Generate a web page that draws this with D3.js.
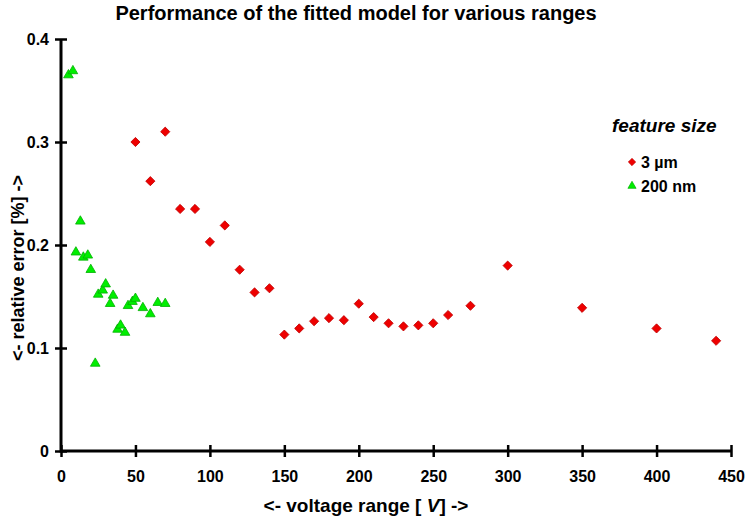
<!DOCTYPE html>
<html>
<head>
<meta charset="utf-8">
<script src="https://cdn.jsdelivr.net/npm/d3@7"></script>
<style>
  html, body { margin: 0; padding: 0; background: #fff; }
  svg text { font-family: "Liberation Sans", Arial, sans-serif; font-weight: bold; fill: #000; }
</style>
</head>
<body>
<svg id="chart" width="747" height="518"></svg>
<script>
// Voltage ranges [V] and relative errors [%] for each feature size
const micronVoltage = [50, 60, 70, 80, 90, 100, 110, 120, 130, 140, 150, 160, 170, 180, 190, 200, 210, 220, 230, 240, 250, 260, 275, 300, 350, 400, 440];
const micronError   = [0.300, 0.262, 0.310, 0.235, 0.235, 0.203, 0.219, 0.176, 0.154, 0.158, 0.113, 0.119, 0.126, 0.129, 0.127, 0.143, 0.130, 0.124, 0.121, 0.122, 0.124, 0.132, 0.141, 0.180, 0.139, 0.119, 0.107];

const nanoVoltage = [5, 8, 10, 13, 15, 18, 20, 23, 25, 28, 30, 33, 35, 38, 40, 43, 45, 48, 50, 55, 60, 65, 70];
const nanoError   = [0.365, 0.369, 0.193, 0.223, 0.188, 0.190, 0.176, 0.085, 0.152, 0.156, 0.162, 0.143, 0.151, 0.118, 0.122, 0.115, 0.141, 0.145, 0.148, 0.139, 0.133, 0.144, 0.143];

const xTicks = [0, 50, 100, 150, 200, 250, 300, 350, 400, 450];
const yTicks = [0, 0.1, 0.2, 0.3, 0.4];
const yTickLabels = ["0", "0.1", "0.2", "0.3", "0.4"];

const seriesNames = ["3 \u00b5m", "200 nm"];

const svg = d3.select("#chart");
const margin = { left: 61, right: 16, top: 39, bottom: 67 };
const W = 747, H = 518;

const x = d3.scaleLinear().domain([0, 450]).range([margin.left, W - margin.right]);
const y = d3.scaleLinear().domain([0, 0.4]).range([H - margin.bottom, margin.top]);

// Title
svg.append("text")
  .attr("x", 356).attr("y", 20)
  .attr("text-anchor", "middle")
  .style("font-size", "20px")
  .text("Performance of the fitted model for various ranges");

// Axes
const xAxis = d3.axisBottom(x).tickValues(xTicks).tickSize(0).tickPadding(0);
const yAxis = d3.axisLeft(y).tickValues(yTicks).tickSize(0).tickFormat((d, i) => yTickLabels[i]);

const tickFont = g => g.selectAll(".tick text")
  .style("font-size", "16px")
  .style("font-family", "Liberation Sans, Arial, sans-serif")
  .style("font-weight", "bold");

const gx = svg.append("g").attr("transform", `translate(0,${y(0)})`).call(xAxis);
gx.select(".domain").remove();
gx.call(tickFont);
gx.selectAll(".tick text").attr("y", 31).attr("dy", 0);
gx.selectAll(".tick").append("line")
  .attr("y1", -6).attr("y2", 6)
  .attr("stroke", "#000").attr("stroke-width", 2.5);

const gy = svg.append("g").attr("transform", `translate(${x(0)},0)`).call(yAxis);
gy.select(".domain").remove();
gy.call(tickFont);
gy.selectAll(".tick text").attr("x", -12).attr("dy", "0.36em");
gy.selectAll(".tick").append("line")
  .attr("x1", -6).attr("x2", 6)
  .attr("stroke", "#000").attr("stroke-width", 2.5);

// Axis lines
svg.append("line")
  .attr("x1", x(0)).attr("x2", x(450)).attr("y1", y(0)).attr("y2", y(0))
  .attr("stroke", "#000").attr("stroke-width", 3);
svg.append("line")
  .attr("x1", x(0)).attr("x2", x(0)).attr("y1", y(0) + 1.5).attr("y2", y(0.4))
  .attr("stroke", "#000").attr("stroke-width", 3);

// Axis titles
const xt = svg.append("text")
  .attr("x", 366).attr("y", 512)
  .attr("text-anchor", "middle")
  .style("font-size", "19px");
xt.append("tspan").text("<- voltage range [ ");
xt.append("tspan").style("font-style", "italic").text("V");
xt.append("tspan").text("] ->");

svg.append("text")
  .attr("transform", "translate(24,268) rotate(-90)")
  .attr("text-anchor", "middle")
  .style("font-size", "18px")
  .text("<- relative error [%] ->");

// Markers
const diamond = d3.symbol(d3.symbolSquare, 42)();
const triangle = d3.symbol(d3.symbolTriangle, 40)();

const micron = micronVoltage.map((v, i) => ({ v, e: micronError[i] }));
const nano = nanoVoltage.map((v, i) => ({ v, e: nanoError[i] }));

svg.append("g").selectAll("path").data(nano).join("path")
  .attr("d", triangle)
  .attr("transform", d => `translate(${x(d.v)},${y(d.e)})`)
  .attr("fill", "#00ee00").attr("stroke", "#00b000").attr("stroke-width", 0.8);

svg.append("g").selectAll("path").data(micron).join("path")
  .attr("d", diamond)
  .attr("transform", d => `translate(${x(d.v)},${y(d.e)}) rotate(45)`)
  .attr("fill", "#ee0000").attr("stroke", "#c00000").attr("stroke-width", 0.8);

// Legend
const lg = svg.append("g");
lg.append("text")
  .attr("x", 612).attr("y", 132)
  .style("font-size", "19px").style("font-style", "italic")
  .text("feature size");
const legendY = [162, 186];
lg.append("path").attr("d", diamond)
  .attr("transform", `translate(632,${legendY[0]}) rotate(45) scale(0.8)`)
  .attr("fill", "#ee0000").attr("stroke", "#c00000").attr("stroke-width", 0.8);
lg.append("path").attr("d", triangle)
  .attr("transform", `translate(632,${legendY[1]}) scale(0.85)`)
  .attr("fill", "#00ee00").attr("stroke", "#00b000").attr("stroke-width", 0.8);
seriesNames.forEach((name, i) => {
  lg.append("text")
    .attr("x", 641).attr("y", legendY[i]).attr("dy", "0.36em")
    .style("font-size", "16px")
    .text(name);
});
</script>
</body>
</html>
